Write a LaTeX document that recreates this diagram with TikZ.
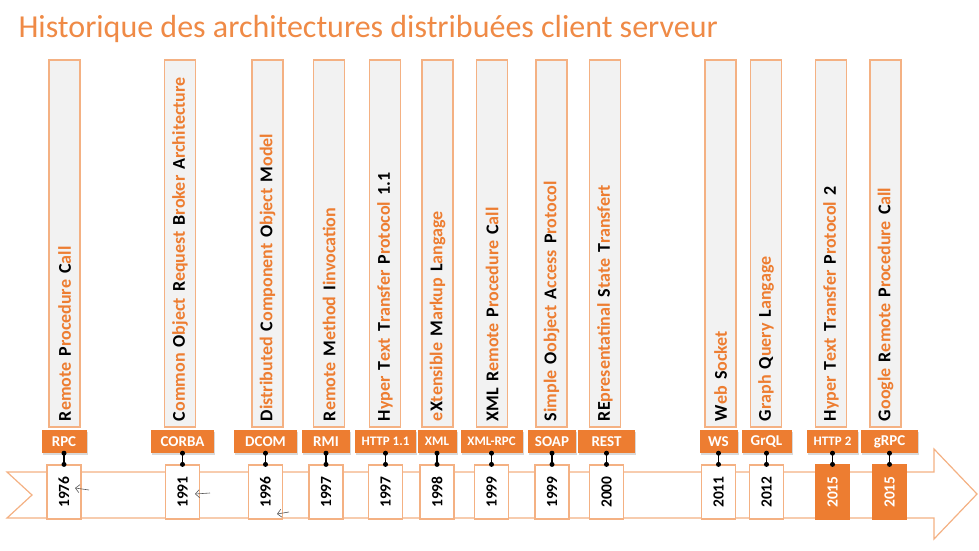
\documentclass[tikz,border=0pt]{standalone}
\usepackage{fontspec}
\setmainfont{Carlito}
\usepackage{xcolor}
\usepackage{tikz}
\usetikzlibrary{arrows.meta,shadows}

\definecolor{orng}{HTML}{ED7D31}
\definecolor{lorng}{HTML}{F4B183}
\definecolor{barfill}{HTML}{F2F2F2}
\newcommand{\kl}[1]{\textcolor{black}{#1}}
\newcommand{\smacr}{\fontsize{13}{15}\selectfont}

\tikzset{
  barbox/.style={draw=lorng, line width=1.2pt, fill=barfill, rotate=90,
    minimum width=367pt, minimum height=31pt, text width=355pt, inner xsep=6pt,
    align=left, text=orng, font=\bfseries\fontsize{18}{20}\selectfont},
  acrbox/.style={fill=orng, text=white, minimum height=23pt, inner sep=0pt,
    font=\bfseries\fontsize{15}{17}\selectfont,
    drop shadow={opacity=0.3, shadow xshift=1pt, shadow yshift=-1.5pt}},
  yearbox/.style={draw=lorng, line width=1.2pt, fill=white, minimum width=34pt,
    minimum height=54pt, inner sep=0pt, font=\bfseries\fontsize{15.5}{17}\selectfont},
  yearhot/.style={yearbox, draw=orng, fill=orng, text=white},
  link/.style={line width=1.2pt},
  band/.style={draw=lorng, line width=1.2pt, fill=white},
  scribble/.style={gray!70!black, line width=0.6pt, -{Straight Barb[length=4pt,width=8pt]}}
}

\begin{document}
\begin{tikzpicture}[x=1pt,y=-1pt]
\useasboundingbox (0,0) rectangle (979,551);
% title
\node[anchor=base west, text=orng!90, font=\fontsize{32}{36}\selectfont] (title) at (15,37.5)
  {Historique des architectures distribuées client serveur};
% time line arrow
\draw[band] (7,472) -- (934,472) -- (934,449) -- (977,494) -- (934,539) -- (934,518)
  -- (7,518) -- (32,495) -- cycle;
% one column per technology
\foreach \i/\cx/\bx/\aw/\acr/\yr/\ys/\full in {
  1/64/64.5/45/RPC/1976/yearbox/{\kl{R}emote \kl{P}rocedure \kl{C}all},
  2/182.5/180/63/CORBA/1991/yearbox/{\kl{C}ommon \kl{O}bject \kl{R}equest \kl{B}roker \kl{A}rchitecture},
  3/265.5/267.5/63/DCOM/1996/yearbox/{\kl{D}istributed \kl{C}omponent \kl{O}bject \kl{M}odel},
  4/326/329/48/RMI/1997/yearbox/{\kl{R}emote \kl{M}ethod \kl{I}invocation},
  5/385.5/385/61/{\smacr HTTP 1.1}/1997/yearbox/{\kl{H}yper \kl{T}ext \kl{T}ransfer \kl{P}rotocol \kl{1.1}},
  6/437/437.5/39/{\smacr XML}/1998/yearbox/{e\kl{X}tensible \kl{M}arkup \kl{L}angage},
  7/491.5/492/62/{\smacr XML-RPC}/1999/yearbox/{\kl{XML R}emote \kl{P}rocedure \kl{C}all},
  8/552/551.5/48/SOAP/1999/yearbox/{\kl{S}imple \kl{O}object \kl{A}ccess \kl{P}rotocol},
  9/606.5/605/57/REST/2000/yearbox/{\kl{RE}presentatinal \kl{S}tate \kl{T}ransfert},
  10/718.5/720.5/38/WS/2011/yearbox/{\kl{W}eb \kl{S}ocket},
  11/766.5/766/50/GrQL/2012/yearbox/{\kl{G}raph \kl{Q}uery \kl{L}angage},
  12/832.5/831/51/{\smacr HTTP 2}/2015/yearhot/{\kl{H}yper \kl{T}ext \kl{T}ransfer \kl{P}rotocol \kl{2}},
  13/889.5/885.5/57/gRPC/2015/yearhot/{\kl{G}oogle \kl{R}emote \kl{P}rocedure \kl{C}all}} {
  \node[barbox] (bar\i) at (\bx,243.5) {\full};
  \node[acrbox, minimum width=\aw pt] (acr\i) at (\cx,441.5) {\acr};
  \node[\ys] (yr\i) at (\cx,492) {\rotatebox{90}{\yr}};
  \draw[link] (acr\i.south) -- (yr\i.north);
  \fill (acr\i.south) circle (2.5pt) (yr\i.north) circle (2.5pt);
}
% hand drawn marks
\draw[scribble] (89,490) -- (75,488);
\draw[scribble] (210,493) -- (195,494);
\draw[scribble] (289,512) -- (277,514);
\end{tikzpicture}
\end{document}
